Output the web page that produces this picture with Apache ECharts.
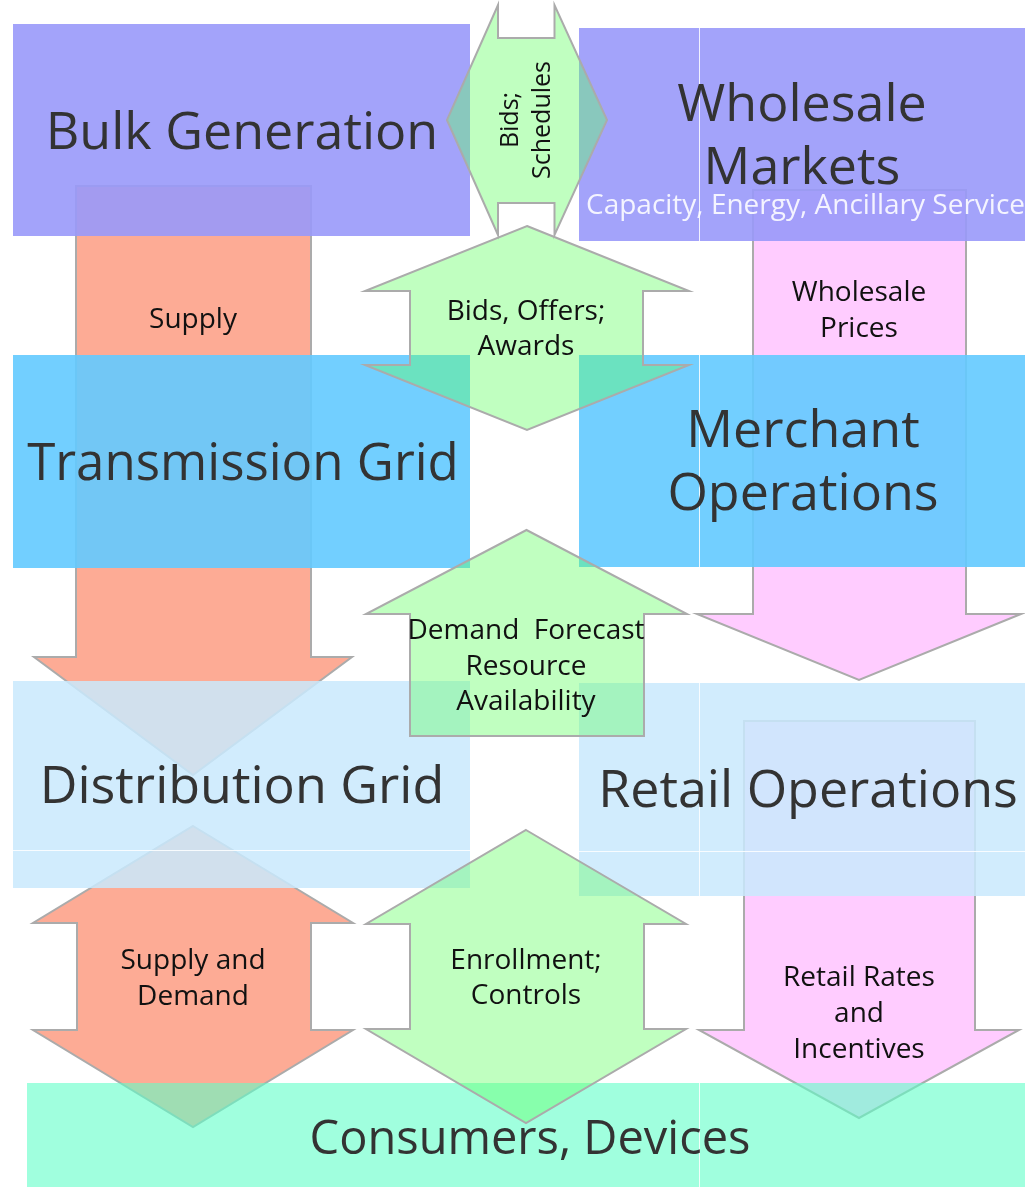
<!DOCTYPE html>
<html>
<head>
<meta charset="utf-8">
<title>Bulk generation to consumers</title>
<script src="https://cdn.jsdelivr.net/npm/echarts@6/dist/echarts.min.js"></script>
<style>
    html, body { margin: 0; padding: 0; background: #fff; }
    #main { width: 1025px; height: 1187px; }
</style>
</head>
<body>
<div id="main"></div>
<script>
// diagram units: x 0..1025 left to right, y 0..1187 top to bottom
var blockLabels = ['Bulk Generation', 'Wholesale\nMarkets', 'Transmission Grid', 'Merchant\nOperations',
    'Distribution Grid', 'Retail Operations', 'Consumers, Devices'];
var blockTier = [0, 0, 1, 1, 2, 2, 3];
var blockX = [[13, 470], [579, 1025], [13, 470], [579, 1025], [13, 470], [579, 1025], [27, 1025]];
var blockY = [[24, 236], [28, 241], [355, 568], [355, 567], [681, 888], [683, 896], [1083, 1187]];
var blockLabelAt = [[242, 131], [802, 135], [243, 462], [803, 461], [242, 785], [808, 789], [530, 1138]];
var blockSeamX = [null, 699, null, 699, null, 699, 699];
var blockSeamY = [null, null, null, null, 850, 851, null];

var marketNote = 'Capacity, Energy, Ancillary Services';
var marketNoteAt = [586, 204];

// power / price flows (drawn under the blocks)
var flowLabels = ['Supply', 'Wholesale\nPrices', 'Retail Rates\nand\nIncentives', 'Supply and\nDemand'];
var flowTone = [0, 1, 1, 0];
var flowKinds = ['down', 'down', 'down', 'both'];
var flowShafts = [[76, 311], [753, 966], [744, 975], [77, 311]];
var flowHeads = [[34, 352], [697, 1021], [699, 1019], [33, 353]];
var flowStops = [[186, 657, 775], [190, 614, 680], [721, 1030, 1118], [826, 923, 1030, 1127]];
var flowLabelAt = [[193, 318], [859, 309], [859, 1012], [193, 977]];

// information exchanges (drawn over the blocks)
var exchangeLabels = ['Bids;\nSchedules', 'Bids, Offers;\nAwards', 'Demand  Forecast\nResource\nAvailability',
    'Enrollment;\nControls'];
var exchangeKinds = ['lr', 'both', 'up', 'both'];
var exchangeShafts = [[38, 203], [410, 643], [410, 644], [410, 644]];
var exchangeHeads = [[5, 235], [365, 689], [366, 687], [366, 686]];
var exchangeStops = [[447, 498, 554.5, 607], [226, 291, 365, 430], [530, 614, 736], [830, 924, 1029, 1123]];
var exchangeLabelAt = [[527, 120], [526, 328], [526, 665], [526, 977]];
</script>
<script>
(function () {
    'use strict';

    var FONT = '"Open Sans", "Noto Sans", sans-serif';
    var tierFill = ['rgba(153,153,250,0.9)', 'rgba(99,202,255,0.9)', 'rgba(201,233,253,0.85)', 'rgba(97,255,200,0.6)'];
    var toneFill = ['#fdab95', '#ffccff'];
    var edge = '#ababab';

    var chart = echarts.init(document.getElementById('main'), null, {renderer: 'canvas'});

    function arrowPoints(kind, shaft, head, stops) {
        var l = shaft[0], r = shaft[1], hl = head[0], hr = head[1], c = (hl + hr) / 2;
        var s = stops, pts;
        if (kind === 'down') {
            pts = [[l, s[0]], [r, s[0]], [r, s[1]], [hr, s[1]], [c, s[2]], [hl, s[1]], [l, s[1]]];
        } else if (kind === 'up') {
            pts = [[c, s[0]], [hr, s[1]], [r, s[1]], [r, s[2]], [l, s[2]], [l, s[1]], [hl, s[1]]];
        } else {
            pts = [[c, s[0]], [hr, s[1]], [r, s[1]], [r, s[2]], [hr, s[2]], [c, s[3]],
                [hl, s[2]], [l, s[2]], [l, s[1]], [hl, s[1]]];
        }
        //横向的箭头，交换坐标
        if (kind === 'lr') {
            pts = pts.map(function (p) { return [p[1], p[0]]; });
        }
        return pts;
    }

    function label(api, at, text, size, lineHeight, color, extra) {
        var p = api.coord(at);
        var el = {
            type: 'text',
            x: p[0],
            y: p[1] + (extra && extra.rotation ? 0 : size * 0.06),
            style: {
                text: text,
                fill: color,
                fontSize: size,
                fontFamily: FONT,
                lineHeight: lineHeight,
                align: 'center',
                verticalAlign: 'middle'
            }
        };
        if (extra) {
            for (var k in extra) { el[k] = extra[k]; }
        }
        return el;
    }

    function renderFlow(params, api) {
        var i = params.dataIndex;
        var pts = arrowPoints(flowKinds[i], flowShafts[i], flowHeads[i], flowStops[i]).map(api.coord);
        return {
            type: 'group',
            children: [
                {type: 'polygon', shape: {points: pts}, style: {fill: toneFill[flowTone[i]], stroke: edge, lineWidth: 2}},
                label(api, flowLabelAt[i], flowLabels[i], 28, 36, '#111')
            ]
        };
    }

    function renderBlock(params, api) {
        var i = params.dataIndex;
        var a = api.coord([blockX[i][0], blockY[i][0]]);
        var b = api.coord([blockX[i][1], blockY[i][1]]);
        var children = [{
            type: 'rect',
            shape: {x: a[0], y: a[1], width: b[0] - a[0], height: b[1] - a[1]},
            style: {fill: tierFill[blockTier[i]]}
        }];
        if (blockSeamX[i] !== null) {
            var sx = api.coord([blockSeamX[i], 0])[0] + 0.5;
            children.push({type: 'line', shape: {x1: sx, y1: a[1], x2: sx, y2: b[1]},
                style: {stroke: 'rgba(255,255,255,0.85)', lineWidth: 1}});
        }
        if (blockSeamY[i] !== null) {
            var sy = api.coord([0, blockSeamY[i]])[1] + 0.5;
            children.push({type: 'line', shape: {x1: a[0], y1: sy, x2: b[0], y2: sy},
                style: {stroke: 'rgba(255,255,255,0.85)', lineWidth: 1}});
        }
        var size = i === 6 ? 47 : (i === 2 ? 51 : 52);
        children.push(label(api, blockLabelAt[i], blockLabels[i], size, 63, '#333'));
        if (i === 1) {
            var n = label(api, marketNoteAt, marketNote, 28, 30, 'rgba(255,255,255,0.88)');
            n.style.align = 'left';
            children.push(n);
        }
        return {type: 'group', children: children};
    }

    function renderExchange(params, api) {
        var i = params.dataIndex;
        var pts = arrowPoints(exchangeKinds[i], exchangeShafts[i], exchangeHeads[i], exchangeStops[i]).map(api.coord);
        var txt = exchangeKinds[i] === 'lr'
            ? label(api, exchangeLabelAt[i], exchangeLabels[i], 25, 32, '#111', {rotation: Math.PI / 2})
            : label(api, exchangeLabelAt[i], exchangeLabels[i], 28, 35.5, '#111');
        return {
            type: 'group',
            children: [
                {type: 'polygon', shape: {points: pts}, style: {fill: 'rgba(98,255,98,0.4)', stroke: edge, lineWidth: 2}},
                txt
            ]
        };
    }

    function indexData(arr) {
        return arr.map(function (v, i) { return [i, 0]; });
    }

    chart.setOption({
        animation: false,
        backgroundColor: '#fff',
        grid: {left: 0, right: 0, top: 0, bottom: 0},
        xAxis: {type: 'value', min: 0, max: 1025, show: false},
        yAxis: {type: 'value', min: 0, max: 1187, inverse: true, show: false},
        series: [
            {type: 'custom', name: 'flows', z: 2, silent: true, clip: false, renderItem: renderFlow, data: indexData(flowLabels)},
            {type: 'custom', name: 'blocks', z: 3, silent: true, clip: false, renderItem: renderBlock, data: indexData(blockLabels)},
            {type: 'custom', name: 'exchanges', z: 4, silent: true, clip: false, renderItem: renderExchange, data: indexData(exchangeLabels)}
        ]
    });
})();
</script>
</body>
</html>
